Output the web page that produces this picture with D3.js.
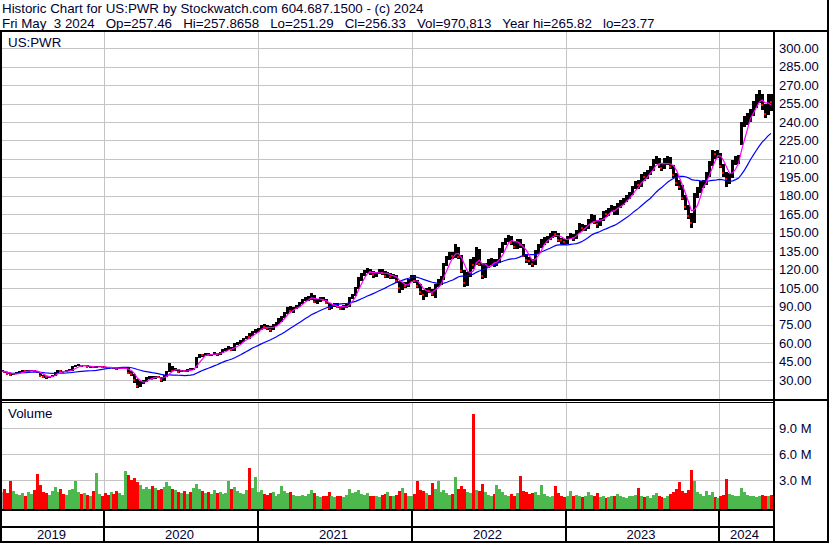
<!DOCTYPE html>
<html>
<head>
<meta charset="utf-8">
<script src="https://cdnjs.cloudflare.com/ajax/libs/d3/7.8.5/d3.min.js"></script>
<style>
  body { margin: 0; background: #fff; }
  svg { display: block; font-family: "Liberation Sans", Arial, sans-serif; }
  text { fill: #000033; }
</style>
</head>
<body>
<svg id="chart" width="830" height="543"></svg>
<script>
// weekly bars, Friday May 3 2019 .. Friday May 3 2024
var firstWeek = new Date(2019, 4, 3),
    lastWeek = new Date(2024, 4, 3);

var weekClose = [
  37.2, 36.3, 35.0, 34.2, 34.6, 35.8, 36.8, 37.4, 37.0, 37.6, 37.9, 37.3, 36.2, 33.4, 32.6, 32.2, 32.8, 33.6, 36.2, 37.6,
  37.1, 36.8, 37.5, 37.9, 40.5, 41.8, 42.0, 41.3, 41.9, 40.6, 40.9, 40.2, 40.6, 40.9, 40.7,
  40.2, 39.8, 40.3, 39.6, 38.9, 39.4, 39.8, 40.0, 35.6, 34.8, 30.2, 25.2, 28.5, 28.9, 31.8, 32.5, 31.2, 32.8, 32.3, 29.9,
  33.2, 36.5, 41.5, 37.6, 38.6, 36.4, 37.2, 37.0, 38.8, 38.5, 39.1, 48.2, 50.5, 50.0, 51.2, 50.4, 50.8, 51.9, 51.0, 52.1,
  54.6, 55.2, 56.5, 54.2, 59.1, 60.3, 61.8, 63.5, 65.2, 64.9, 69.3, 70.0,
  71.5, 74.0, 73.2, 72.5, 70.8, 74.6, 76.2, 79.5, 80.8, 84.5, 88.9, 86.5, 88.2, 90.5, 92.4, 95.1, 96.3, 96.6, 99.3, 93.8,
  94.6, 96.1, 95.3, 92.8, 88.4, 90.6, 91.5, 89.2, 87.8, 90.2, 90.5, 96.5, 99.2, 104.8, 112.5, 116.0, 118.2, 119.5, 117.6, 115.4,
  116.8, 118.9, 117.2, 114.6, 116.2, 113.5, 114.8, 110.2, 104.5, 108.4, 106.9, 110.6,
  114.7, 110.2, 106.8, 101.5, 99.2, 103.8, 102.5, 99.6, 107.5, 110.2, 112.8, 124.5, 129.8, 132.5, 131.2, 137.5, 130.5, 118.4,
  109.0, 115.8, 126.5, 124.0, 135.6, 124.2, 114.5, 123.6, 125.8, 127.2, 124.5, 126.8, 135.2, 141.5, 144.8, 146.2, 141.2, 138.6,
  143.5, 139.8, 131.2, 127.4, 126.5, 124.3, 133.5, 140.2, 142.5, 143.8, 145.6, 147.8, 149.2, 148.5, 144.2, 143.8,
  142.5, 146.5, 147.8, 145.2, 150.5, 155.2, 153.8, 154.6, 159.5, 163.2, 158.8, 157.2, 160.4, 166.6, 164.8, 168.5, 170.2, 167.5,
  172.8, 174.5, 176.2, 178.8, 181.5, 186.4, 190.2, 188.5, 196.4, 195.2, 199.8, 201.6, 207.5, 209.8, 205.2, 202.8, 206.5, 210.4,
  203.5, 196.8, 190.2, 187.1, 178.5, 171.2, 163.5, 158.2, 181.5, 184.6, 189.8, 190.5, 197.2, 206.5, 214.6, 213.8, 215.8,
  204.5, 198.2, 193.5, 195.8, 207.2, 210.5, 211.8, 238.4, 241.5, 244.2, 246.8, 255.6, 259.8, 262.5, 253.8, 246.2, 259.5, 256.33
];

var weekHigh = [
  38.1, 37.6, 36.6, 35.3, 35.4, 36.2, 37.2, 38.0, 37.8, 38.1, 38.4, 38.2, 37.5, 36.0, 33.8, 33.1, 33.4, 34.2, 36.6, 38.1,
  38.0, 37.5, 37.9, 38.6, 41.2, 42.4, 42.8, 42.3, 42.5, 42.1, 41.4, 41.1, 41.2, 41.6, 41.3,
  40.9, 40.6, 40.8, 40.6, 39.9, 39.9, 40.3, 40.8, 40.3, 37.2, 34.6, 30.5, 29.2, 29.6, 32.4, 33.2, 33.0, 33.4, 33.6, 32.4,
  33.8, 37.2, 43.6, 41.8, 39.4, 39.0, 37.9, 37.9, 39.3, 39.6, 39.8, 48.8, 51.3, 51.0, 51.8, 52.0, 51.5, 52.4, 52.2, 52.6,
  55.0, 56.2, 57.4, 57.2, 60.1, 61.2, 62.6, 64.2, 66.0, 67.9, 70.2, 71.4,
  72.4, 75.1, 75.4, 74.6, 73.8, 75.4, 77.1, 80.4, 82.5, 85.6, 89.7, 90.3, 89.1, 91.4, 93.5, 96.0, 97.8, 98.2, 100.6, 99.4,
  96.1, 97.2, 97.6, 96.1, 93.0, 91.8, 92.9, 92.4, 90.2, 91.2, 91.8, 97.3, 100.4, 106.1, 113.6, 117.2, 119.6, 121.4, 120.2, 118.4,
  118.1, 120.5, 120.6, 119.1, 117.9, 117.1, 116.6, 115.6, 110.8, 109.6, 110.1, 112.1,
  115.6, 115.1, 111.4, 107.8, 103.1, 104.9, 105.9, 104.1, 108.4, 112.5, 114.6, 125.6, 130.9, 134.0, 134.2, 140.5, 138.6, 131.5,
  119.5, 117.8, 128.2, 130.2, 138.5, 136.4, 125.6, 125.2, 128.1, 129.0, 128.4, 128.6, 137.6, 142.6, 145.5, 148.0, 147.1, 142.8,
  144.6, 145.1, 140.6, 132.8, 130.4, 128.6, 135.6, 141.0, 144.9, 146.2, 147.2, 149.4, 151.0, 151.6, 149.3, 145.9,
  144.6, 147.6, 149.6, 148.9, 152.0, 157.4, 157.1, 156.3, 160.8, 164.8, 164.2, 160.2, 162.0, 167.9, 168.0, 170.2, 172.6, 171.4,
  174.1, 176.6, 178.4, 180.6, 183.4, 188.2, 192.1, 192.4, 197.8, 199.3, 201.2, 204.0, 209.8, 212.2, 210.9, 206.8, 211.0, 212.5,
  211.2, 205.4, 198.7, 193.2, 189.0, 180.9, 172.4, 166.2, 182.4, 187.1, 191.6, 192.8, 199.2, 208.3, 217.0, 216.4, 217.2,
  214.8, 205.6, 199.6, 198.4, 209.4, 212.6, 213.4, 240.2, 245.1, 247.6, 250.2, 257.2, 262.6, 265.82, 262.4, 254.5, 263.0, 262.6
];

var weekLow = [
  36.2, 35.8, 34.6, 33.6, 33.9, 34.5, 35.6, 36.5, 36.4, 36.7, 37.1, 36.8, 35.6, 32.9, 31.7, 31.2, 31.9, 32.5, 33.4, 36.0,
  36.6, 36.2, 36.5, 37.0, 37.6, 40.3, 41.3, 40.8, 41.0, 40.2, 40.1, 39.6, 39.8, 40.2, 40.1,
  39.6, 39.1, 39.4, 39.1, 38.4, 38.6, 39.0, 39.2, 35.2, 33.6, 27.8, 23.77, 24.6, 26.5, 28.4, 30.6, 30.5, 30.9, 31.6, 28.5,
  29.5, 32.8, 36.2, 37.0, 37.1, 35.8, 36.2, 36.3, 36.8, 37.8, 38.1, 39.5, 47.6, 49.1, 49.6, 49.3, 49.6, 50.2, 49.9, 50.4,
  51.8, 53.9, 54.6, 53.6, 53.8, 58.6, 59.6, 61.3, 63.1, 63.6, 65.8, 68.6,
  69.2, 70.6, 71.8, 71.1, 69.4, 70.5, 73.9, 75.8, 77.6, 80.2, 83.9, 85.1, 84.8, 87.6, 89.8, 91.9, 94.2, 94.6, 95.1, 92.4,
  91.8, 93.7, 93.9, 91.5, 87.3, 87.9, 89.6, 88.3, 86.6, 87.1, 88.8, 89.4, 95.8, 98.5, 104.2, 110.8, 114.6, 116.9, 115.8, 112.9,
  113.5, 115.9, 115.4, 113.4, 112.8, 112.4, 111.9, 109.1, 100.6, 103.1, 104.8, 105.9,
  109.8, 108.6, 104.9, 98.9, 95.5, 97.6, 100.8, 98.1, 96.8, 105.4, 107.1, 111.2, 122.6, 128.0, 128.4, 129.6, 128.8, 117.2,
  105.5, 106.6, 113.6, 120.4, 123.8, 122.5, 112.0, 113.2, 121.4, 123.5, 122.2, 122.6, 125.3, 133.4, 139.6, 142.0, 139.6, 136.5,
  136.6, 137.2, 130.2, 125.6, 123.4, 122.0, 123.8, 132.6, 137.8, 139.9, 141.8, 143.9, 145.8, 146.2, 142.6, 140.8,
  140.1, 140.4, 144.9, 143.4, 144.6, 149.5, 151.6, 150.9, 152.8, 157.6, 156.9, 153.7, 155.4, 159.2, 162.4, 163.6, 166.8, 164.6,
  164.2, 170.1, 172.4, 174.8, 177.6, 180.8, 185.7, 185.1, 187.2, 192.1, 194.0, 197.2, 200.4, 205.6, 202.6, 200.1, 202.0, 204.8,
  201.6, 194.1, 187.6, 184.3, 176.4, 168.7, 160.8, 154.0, 157.9, 178.2, 182.4, 186.5, 188.4, 195.0, 204.4, 209.6, 210.8,
  202.4, 195.1, 187.0, 189.8, 194.6, 204.9, 206.2, 221.0, 235.6, 237.4, 239.8, 244.6, 251.8, 255.2, 249.4, 243.0, 245.8, 248.8
];

// millions of shares
var weekVolume = [
  1.6, 1.9, 1.5, 2.9, 1.7, 1.4, 1.3, 1.5, 1.2, 1.6, 1.4, 1.8, 3.7, 2.4, 1.6, 1.5, 1.3, 1.7, 2.2, 1.6,
  1.9, 1.4, 1.3, 1.8, 2.0, 2.9, 1.6, 1.4, 1.5, 1.3, 1.2, 1.7, 3.85, 1.4, 1.1,
  1.5, 1.3, 1.6, 1.4, 1.7, 1.5, 1.3, 4.0, 3.6, 3.0, 3.2, 2.8, 2.4, 2.0, 2.2, 1.9, 2.3, 2.1, 1.8, 2.0,
  2.2, 2.8, 2.3, 1.9, 1.8, 1.6, 1.5, 1.7, 1.4, 1.6, 2.1, 2.5, 2.0, 1.7, 1.5, 1.6, 1.4, 1.8, 1.5, 1.6,
  1.4, 1.5, 2.9, 1.9, 2.2, 1.7, 1.5, 1.4, 1.8, 4.4, 2.1, 3.3,
  1.6, 1.8, 1.4, 1.3, 1.5, 1.6, 1.2, 1.4, 2.3, 1.7, 1.5, 1.6, 1.3, 1.2, 1.1, 1.3, 1.2, 1.4, 1.8, 1.5,
  1.1, 1.0, 1.2, 1.1, 1.6, 1.2, 1.0, 1.1, 1.2, 1.0, 1.3, 2.0, 1.5, 1.6, 1.8, 1.4, 1.3, 1.5, 1.2, 1.1,
  1.2, 1.0, 1.3, 1.4, 1.6, 1.2, 1.1, 1.3, 1.7, 2.1, 1.5, 1.2,
  1.1, 1.4, 2.9, 1.8, 1.7, 1.5, 1.3, 2.6, 1.9, 2.9, 1.6, 1.8, 1.5, 1.3, 1.4, 3.3, 1.9, 2.3,
  2.0, 1.6, 1.5, 10.7, 1.8, 1.7, 2.5, 1.6, 1.3, 1.2, 1.4, 2.4, 1.9, 1.6, 1.3, 1.2, 1.4, 1.1,
  1.5, 3.5, 1.7, 1.6, 1.4, 1.5, 1.6, 1.3, 2.4, 1.4, 1.1, 1.0, 1.2, 2.3, 1.5, 1.1,
  1.0, 1.2, 1.7, 1.1, 1.3, 1.2, 1.0, 1.1, 1.6, 1.3, 1.1, 1.5, 1.0, 1.2, 0.9, 1.0, 1.1, 1.2,
  1.4, 1.1, 1.0, 0.9, 1.1, 1.2, 1.3, 2.1, 1.2, 1.0, 1.1, 0.9, 1.3, 1.5, 1.1, 1.0, 0.9, 1.2,
  1.4, 1.6, 1.9, 2.8, 1.7, 1.5, 1.8, 4.2, 2.9, 1.6, 1.4, 1.1, 1.7, 1.3, 1.6, 1.0, 0.9,
  1.2, 1.3, 3.1, 1.4, 1.3, 1.2, 1.1, 2.1, 1.6, 1.3, 1.2, 1.1, 1.0, 1.2, 1.3, 1.1, 1.2, 1.3
];

var priceTicks = d3.range(30, 301, 15),
    volumeTicks = [3, 6, 9],
    yearLabels = ['2019', '2020', '2021', '2022', '2023', '2024'],
    fastWeeks = 4,
    slowWeeks = 20;

var titleText = 'Historic Chart for US:PWR by Stockwatch.com 604.687.1500 - (c) 2024',
    quoteText = 'Fri May  3 2024   Op=257.46   Hi=257.8658   Lo=251.29   Cl=256.33   Vol=970,813   Year hi=265.82   lo=23.77';

var weeks = weekClose.map(function(c, i) {
  return {
    date: d3.timeDay.offset(firstWeek, 7 * i),
    close: c,
    high: weekHigh[i],
    low: weekLow[i],
    volume: weekVolume[i],
    change: i ? c - weekClose[i - 1] : 0
  };
});

function movingAverage(values, n) {
  return values.map(function(v, i) {
    return d3.mean(values.slice(Math.max(0, i - n + 1), i + 1));
  });
}

var svg = d3.select('#chart'),
    plotLeft = 2,
    plotRight = 773,
    priceTop = 32,
    priceBottom = 399,
    volTop = 403,
    volBottom = 509;

var x = d3.scaleTime().domain([firstWeek, lastWeek]).range([2, 771]),
    y = d3.scaleLinear().domain([30, 300]).range([380, 48.3]),
    yVol = d3.scaleLinear().domain([3, 9]).range([480, 428.3]);

var yearStarts = d3.timeYear.range(new Date(2020, 0, 1), new Date(2024, 0, 2)),
    yearEdges = [plotLeft].concat(yearStarts.map(function(d) { return Math.round(x(d)); }), [plotRight]);

var crisp = function(v) { return Math.round(v) + 0.5; };

// clip paths
var defs = svg.append('defs');
defs.append('clipPath').attr('id', 'clip-price').append('rect')
  .attr('x', plotLeft).attr('y', priceTop).attr('width', plotRight - plotLeft).attr('height', priceBottom - priceTop);
defs.append('clipPath').attr('id', 'clip-vol').append('rect')
  .attr('x', plotLeft).attr('y', volTop).attr('width', plotRight - plotLeft).attr('height', volBottom - volTop);

// grid
var grid = svg.append('g').attr('stroke', '#c4c4c4').attr('stroke-width', 1).attr('shape-rendering', 'crispEdges');

grid.selectAll('line.h-price')
  .data(priceTicks)
  .enter().append('line')
  .attr('class', 'h-price')
  .attr('x1', plotLeft).attr('x2', plotRight)
  .attr('y1', function(d) { return crisp(y(d)); })
  .attr('y2', function(d) { return crisp(y(d)); });

grid.selectAll('line.h-vol')
  .data(volumeTicks)
  .enter().append('line')
  .attr('class', 'h-vol')
  .attr('x1', plotLeft).attr('x2', plotRight)
  .attr('y1', function(d) { return crisp(yVol(d)); })
  .attr('y2', function(d) { return crisp(yVol(d)); });

[[priceTop, priceBottom], [volTop, volBottom]].forEach(function(band) {
  grid.selectAll(null)
    .data(yearStarts)
    .enter().append('line')
    .attr('x1', function(d) { return crisp(x(d)); })
    .attr('x2', function(d) { return crisp(x(d)); })
    .attr('y1', band[0]).attr('y2', band[1]);
});

// price bars
var bars = svg.append('g').attr('clip-path', 'url(#clip-price)').attr('shape-rendering', 'crispEdges');

bars.selectAll('rect.bar')
  .data(weeks)
  .enter().append('rect')
  .attr('class', 'bar')
  .attr('x', function(d) { return Math.round(x(d.date) - 1.5); })
  .attr('width', 3)
  .attr('y', function(d) { return Math.round(y(d.high)); })
  .attr('height', function(d) { return Math.max(1, Math.round(y(d.low)) - Math.round(y(d.high))); })
  .attr('fill', '#000');

bars.selectAll('rect.close')
  .data(weeks.filter(function(d) { return d.change < 0; }))
  .enter().append('rect')
  .attr('class', 'close')
  .attr('x', function(d) { return Math.round(x(d.date) - 1.5); })
  .attr('width', 2)
  .attr('y', function(d) { return Math.round(y(d.close)) - 1; })
  .attr('height', 2)
  .attr('fill', '#ff0000');

// moving averages of the weekly close
var closes = weeks.map(function(d) { return d.close; }),
    fastMa = movingAverage(closes, fastWeeks),
    slowMa = movingAverage(closes, slowWeeks);

var maLine = d3.line()
  .x(function(d, i) { return x(weeks[i].date); })
  .y(function(d) { return y(d); });

var lines = svg.append('g').attr('clip-path', 'url(#clip-price)').attr('fill', 'none');
lines.append('path').attr('d', maLine(slowMa)).attr('stroke', '#0000ff').attr('stroke-width', 1.2);
lines.append('path').attr('d', maLine(fastMa)).attr('stroke', '#ff00ff').attr('stroke-width', 1.2);

// volume
svg.append('g')
  .attr('clip-path', 'url(#clip-vol)')
  .attr('shape-rendering', 'crispEdges')
  .selectAll('rect')
  .data(weeks)
  .enter().append('rect')
  .attr('x', function(d) { return Math.round(x(d.date) - 1.5); })
  .attr('width', 3)
  .attr('y', function(d) { return Math.round(yVol(d.volume)); })
  .attr('height', function(d) { return volBottom - Math.round(yVol(d.volume)); })
  .attr('fill', function(d) {
    return d.change > 0 ? '#4db84d' : (d.change < 0 ? '#ff0000' : '#a8a8a8');
  });

// frame
var frame = svg.append('g').attr('fill', '#000').attr('shape-rendering', 'crispEdges');
[
  [0, 30, 829, 2],
  [0, 30, 2, 513],
  [773, 30, 2, 513],
  [827, 0, 2, 543],
  [0, 399, 829, 2],
  [0, 402, 775, 1],
  [0, 509, 775, 2],
  [0, 526, 775, 2],
  [0, 541, 829, 2]
].forEach(function(r) {
  frame.append('rect').attr('x', r[0]).attr('y', r[1]).attr('width', r[2]).attr('height', r[3]);
});

frame.selectAll('rect.year-sep')
  .data(yearStarts)
  .enter().append('rect')
  .attr('class', 'year-sep')
  .attr('x', function(d) { return Math.round(x(d)) - 1; })
  .attr('width', 2)
  .attr('y', 511).attr('height', 30);

// axes
var priceAxis = d3.axisRight(y)
  .tickValues(priceTicks)
  .tickSize(0)
  .tickPadding(5)
  .tickFormat(d3.format('.2f'));

var volAxis = d3.axisRight(yVol)
  .tickValues(volumeTicks)
  .tickSize(0)
  .tickPadding(5)
  .tickFormat(function(d) { return d.toFixed(1) + ' M'; });

[priceAxis, volAxis].forEach(function(axis) {
  var g = svg.append('g').attr('transform', 'translate(774,0)').call(axis);
  g.select('.domain').remove();
  g.selectAll('text')
    .attr('fill', '#000033')
    .style('font-family', '"Liberation Sans", Arial, sans-serif')
    .style('font-size', '13px');
});

// year labels
svg.append('g')
  .selectAll('text')
  .data(yearLabels)
  .enter().append('text')
  .attr('x', function(d, i) { return (yearEdges[i] + yearEdges[i + 1]) / 2 - 1.5; })
  .attr('y', 539)
  .attr('text-anchor', 'middle')
  .style('font-size', '13px')
  .text(function(d) { return d; });

// titles
svg.append('text').attr('x', 2).attr('y', 13).style('font-size', '13.33px').text(titleText);
svg.append('text').attr('x', 2).attr('y', 27.5).style('font-size', '13.33px')
  .attr('xml:space', 'preserve').style('white-space', 'pre').text(quoteText);
svg.append('text').attr('x', 8).attr('y', 46.5).style('font-size', '13.33px').text('US:PWR');
svg.append('text').attr('x', 8).attr('y', 418).style('font-size', '13.33px').text('Volume');
</script>
</body>
</html>
